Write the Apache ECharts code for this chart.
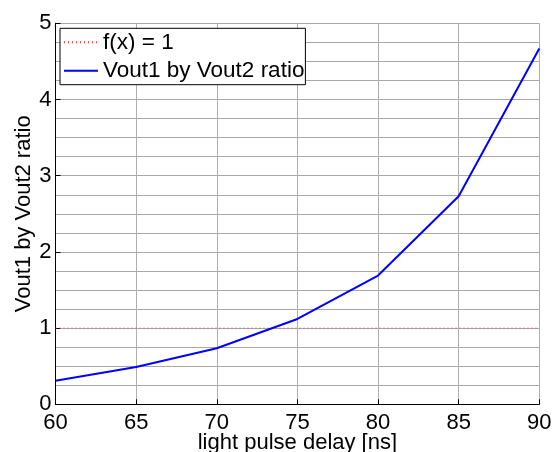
<!DOCTYPE html>
<html>
<head>
<meta charset="utf-8">
<script src="https://cdn.jsdelivr.net/npm/echarts@6/dist/echarts.min.js"></script>
<style>
  html, body { margin: 0; padding: 0; background: #fff; }
  #chart { width: 554px; height: 452px; }
</style>
</head>
<body>
<div id="chart"></div>
<script>
// Light pulse delay (ns) and the measured Vout1/Vout2 ratio
var delays = [60, 65, 70, 75, 80, 85, 90];
var ratio = [0.31, 0.49, 0.735, 1.12, 1.69, 2.73, 4.67];
// Reference level f(x) = 1 across the delay range
var refX = [60, 90];
var refY = [1, 1];

var FONT = 'Liberation Sans, Arial, Helvetica, sans-serif';
var chart = echarts.init(document.getElementById('chart'), null, { renderer: 'canvas' });

chart.setOption({
  animation: false,
  backgroundColor: '#fff',
  textStyle: { fontFamily: FONT },
  grid: {
    left: 55.5, right: 14.7, top: 23.3, bottom: 47.7,
    containLabel: false,
    outerBoundsMode: 'none'
  },
  legend: {
    orient: 'vertical',
    left: 60,
    top: 28.3,
    backgroundColor: '#fff',
    borderColor: '#000',
    borderWidth: 1,
    borderRadius: 0,
    padding: [2, 1, 2, 3],
    itemGap: 4.4,
    itemWidth: 34,
    itemHeight: 14,
    itemStyle: { opacity: 0 },
    textStyle: { fontSize: 22.5, lineHeight: 24, color: '#000', fontFamily: FONT },
    data: ['f(x) = 1', 'Vout1 by Vout2 ratio']
  },
  xAxis: {
    type: 'value',
    min: 60, max: 90, interval: 5,
    name: 'light pulse delay [ns]',
    nameLocation: 'middle',
    nameGap: 28,
    nameMoveOverlap: false,
    nameTextStyle: { fontSize: 22, color: '#000', fontFamily: FONT },
    axisLine: { show: true, onZero: false, lineStyle: { color: '#000', width: 1 } },
    axisTick: { show: true, inside: true, length: 5, lineStyle: { color: '#000' } },
    axisLabel: { fontSize: 22, color: '#000', margin: 8, fontFamily: FONT },
    splitLine: { show: true, lineStyle: { color: '#b0b0b0', width: 1 } }
  },
  yAxis: {
    type: 'value',
    min: 0, max: 5, interval: 1,
    name: 'Vout1 by Vout2 ratio',
    nameLocation: 'middle',
    nameGap: 20.5,
    nameMoveOverlap: false,
    nameTextStyle: { fontSize: 22, color: '#000', fontFamily: FONT },
    axisLine: { show: true, lineStyle: { color: '#000', width: 1 } },
    axisTick: { show: true, inside: true, length: 5, lineStyle: { color: '#000' } },
    axisLabel: { fontSize: 22, color: '#000', margin: 4, fontFamily: FONT },
    splitLine: { show: true, lineStyle: { color: '#a8a8a8', width: 1 } },
    minorTick: { show: false, splitNumber: 4 },
    minorSplitLine: { show: true, lineStyle: { color: '#a8a8a8', width: 1 } }
  },
  series: [
    {
      name: 'f(x) = 1',
      type: 'line',
      data: refX.map(function (x, i) { return [x, refY[i]]; }),
      showSymbol: false,
      symbol: 'none',
      lineStyle: { color: '#ff4040', width: 1, type: [1, 3] },
      itemStyle: { color: '#ff4040' },
      z: 3
    },
    {
      name: 'Vout1 by Vout2 ratio',
      type: 'line',
      data: delays.map(function (x, i) { return [x, ratio[i]]; }),
      showSymbol: false,
      symbol: 'none',
      lineStyle: { color: '#0000ff', width: 2 },
      itemStyle: { color: '#0000ff' },
      z: 4
    }
  ]
});
</script>
</body>
</html>
